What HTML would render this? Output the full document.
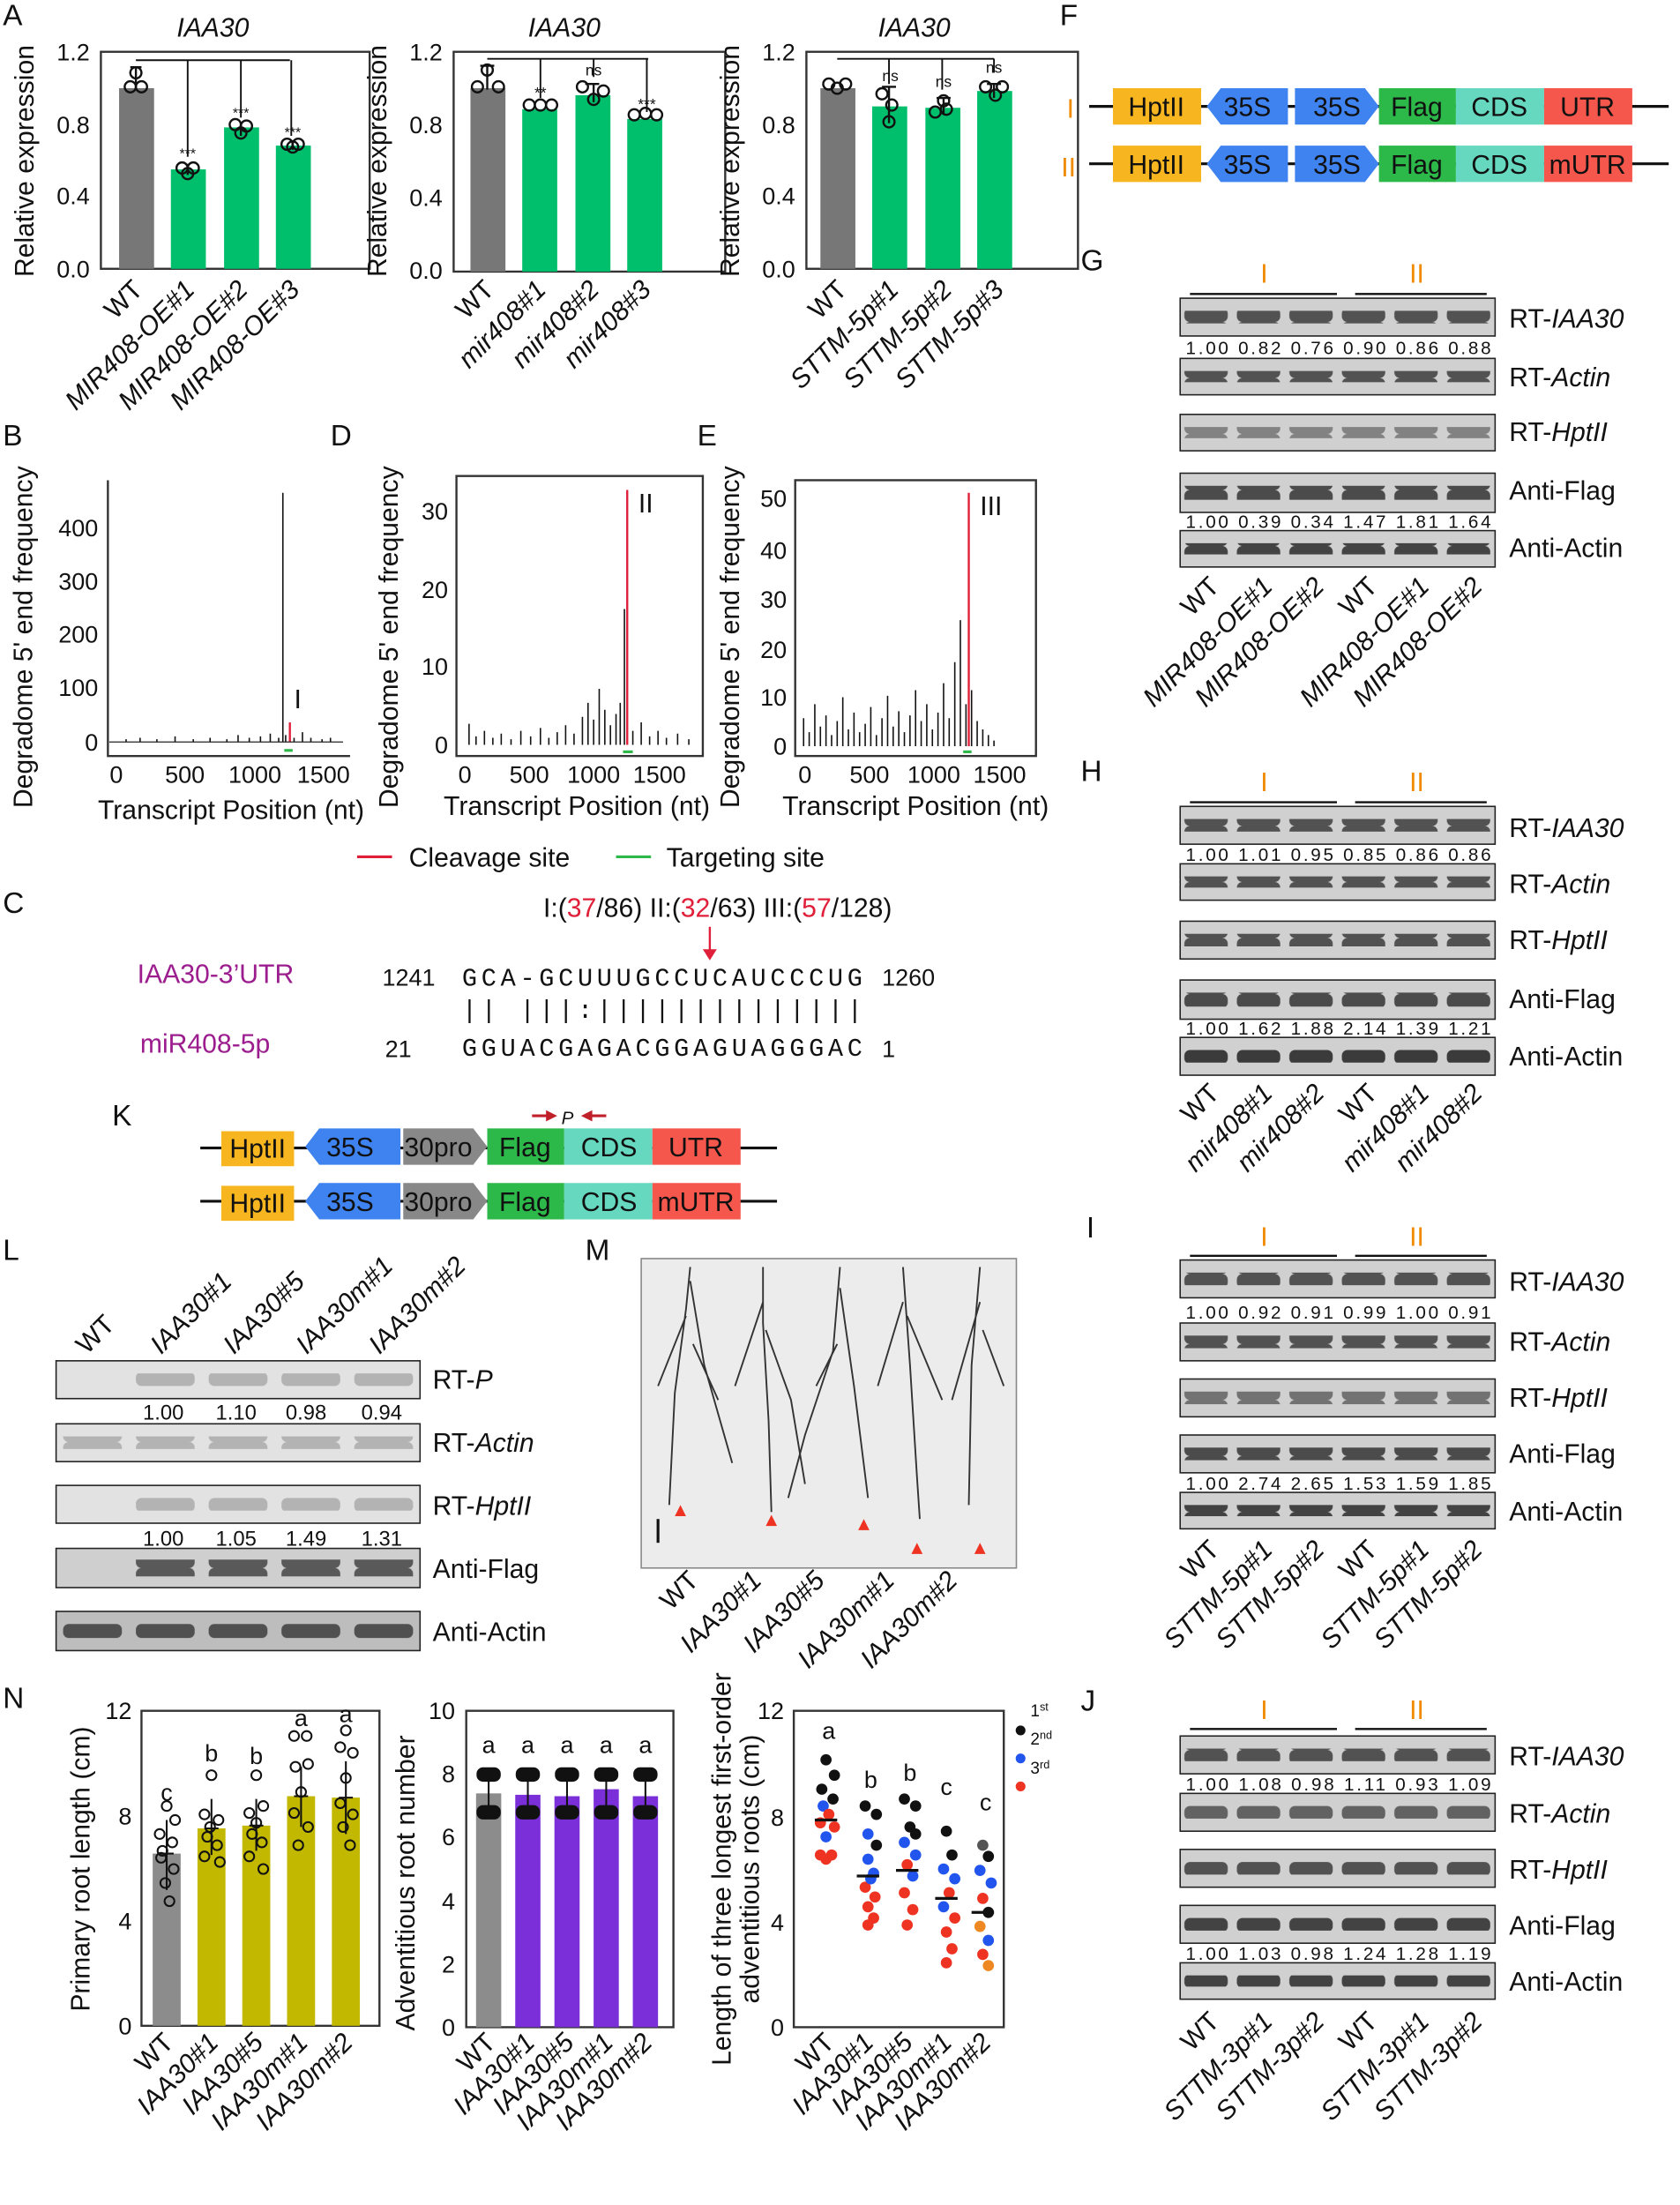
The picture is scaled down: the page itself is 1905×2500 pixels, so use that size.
<!DOCTYPE html>
<html><head><meta charset="utf-8"><style>
html,body{margin:0;padding:0;background:#fff;}
svg{display:block;}
text{font-family:"Liberation Sans",sans-serif;fill:#111;}
.t{font-size:17px;}
.lab{font-size:19px;}
.pl{font-size:21px;}
.i{font-style:italic;}
.ax{stroke:#333;stroke-width:1.5;fill:none;}
.gel{fill:#d0d0d0;stroke:#222;stroke-width:1;}
.num{font-size:13px;}
.gl{font-size:19px;}
.mono{font-family:"Liberation Mono",monospace;font-size:18px;}
</style></head><body>
<svg width="1905" height="2500" viewBox="0 0 1200 1575" xmlns="http://www.w3.org/2000/svg">
<defs>
<pattern id="b6" x="843" y="0" width="37.5" height="10" patternUnits="userSpaceOnUse"><rect x="3" y="0" width="31" height="10" fill="#333" rx="4"/></pattern>
<pattern id="b5" x="40" y="0" width="52" height="10" patternUnits="userSpaceOnUse"><rect x="5" y="0" width="42" height="10" fill="#444" rx="4"/></pattern>
</defs>

<text x="2" y="18" class="pl">A</text>
<text x="757" y="18" class="pl">F</text>
<text x="772" y="193" class="pl">G</text>
<text x="2" y="318" class="pl">B</text>
<text x="236" y="318" class="pl">D</text>
<text x="498" y="318" class="pl">E</text>
<text x="2" y="652" class="pl">C</text>
<text x="772" y="558" class="pl">H</text>
<text x="80" y="804" class="pl">K</text>
<text x="2" y="900" class="pl">L</text>
<text x="418" y="900" class="pl">M</text>
<text x="776" y="884" class="pl">I</text>
<text x="2" y="1220" class="pl">N</text>
<text x="772" y="1222" class="pl">J</text>

<!-- A chart 1 -->
<g>
<text x="152" y="26" class="lab i" text-anchor="middle">IAA30</text>
<rect x="72" y="37" width="192" height="155" class="ax"/>
<g class="t" text-anchor="end"><text x="64" y="43">1.2</text><text x="64" y="95">0.8</text><text x="64" y="146">0.4</text><text x="64" y="198">0.0</text></g>
<text transform="translate(24,115) rotate(-90)" class="lab" text-anchor="middle">Relative expression</text>
<rect x="85" y="63" width="25" height="129" fill="#777"/>
<rect x="122" y="121" width="25" height="71" fill="#00bf6c"/>
<rect x="160" y="91" width="25" height="101" fill="#00bf6c"/>
<rect x="197" y="104" width="25" height="88" fill="#00bf6c"/>
<g fill="none" stroke="#111" stroke-width="1.5">
<circle cx="93" cy="62" r="4"/><circle cx="101" cy="62" r="4"/><circle cx="97" cy="52" r="4"/>
<circle cx="130" cy="120" r="4"/><circle cx="138" cy="120" r="4"/><circle cx="134" cy="124" r="4"/>
<circle cx="168" cy="89" r="4"/><circle cx="176" cy="90" r="4"/><circle cx="172" cy="95" r="4"/>
<circle cx="205" cy="103" r="4"/><circle cx="213" cy="103" r="4"/><circle cx="209" cy="105" r="4"/>
<path d="M97 48V64M93 48h8M134 117V125M172 87V97M209 101V107"/>
<path d="M97 43H207M134 43V112M172 43V84M208 43V97" stroke-width="1.2"/>
</g>
<g font-size="10" text-anchor="middle"><text x="134" y="113">***</text><text x="172" y="84">***</text><text x="209" y="98">***</text></g>
<g class="lab" text-anchor="end">
<text transform="translate(103,208) rotate(-45)">WT</text>
<text transform="translate(140,208) rotate(-45)" class="i">MIR408-OE#1</text>
<text transform="translate(178,208) rotate(-45)" class="i">MIR408-OE#2</text>
<text transform="translate(215,208) rotate(-45)" class="i">MIR408-OE#3</text>
</g>
</g>

<!-- A chart 2 -->
<g>
<text x="403" y="26" class="lab i" text-anchor="middle">IAA30</text>
<rect x="324" y="37" width="194" height="157" class="ax"/>
<g class="t" text-anchor="end"><text x="316" y="43">1.2</text><text x="316" y="95">0.8</text><text x="316" y="147">0.4</text><text x="316" y="199">0.0</text></g>
<text transform="translate(276,115) rotate(-90)" class="lab" text-anchor="middle">Relative expression</text>
<rect x="336" y="63" width="25" height="131" fill="#777"/>
<rect x="373" y="78" width="25" height="116" fill="#00bf6c"/>
<rect x="411" y="68" width="25" height="126" fill="#00bf6c"/>
<rect x="448" y="85" width="25" height="109" fill="#00bf6c"/>
<g fill="none" stroke="#111" stroke-width="1.5">
<circle cx="341" cy="62" r="4"/><circle cx="356" cy="62" r="4"/><circle cx="348" cy="50" r="4"/>
<circle cx="378" cy="75" r="4"/><circle cx="386" cy="75" r="4"/><circle cx="394" cy="75" r="4"/>
<circle cx="416" cy="62" r="4"/><circle cx="424" cy="71" r="4"/><circle cx="431" cy="65" r="4"/>
<circle cx="453" cy="82" r="4"/><circle cx="461" cy="81" r="4"/><circle cx="469" cy="82" r="4"/>
<path d="M348 46V64M343 47h10M424 60V73M418 60h10"/>
<path d="M348 42H463M386 42V70M424 42V55M462 42V80" stroke-width="1.2"/>
</g>
<g font-size="11" text-anchor="middle"><text x="386" y="70">**</text><text x="424" y="54">ns</text><text x="462" y="78">***</text></g>
<g class="lab i" text-anchor="end">
<text transform="translate(354,208) rotate(-45)" font-style="normal">WT</text>
<text transform="translate(391,208) rotate(-45)">mir408#1</text>
<text transform="translate(429,208) rotate(-45)">mir408#2</text>
<text transform="translate(466,208) rotate(-45)">mir408#3</text>
</g>
</g>

<!-- A chart 3 -->
<g>
<text x="653" y="26" class="lab i" text-anchor="middle">IAA30</text>
<rect x="576" y="37" width="194" height="155" class="ax"/>
<g class="t" text-anchor="end"><text x="568" y="43">1.2</text><text x="568" y="95">0.8</text><text x="568" y="146">0.4</text><text x="568" y="198">0.0</text></g>
<text transform="translate(528,115) rotate(-90)" class="lab" text-anchor="middle">Relative expression</text>
<rect x="586" y="63" width="25" height="129" fill="#777"/>
<rect x="623" y="76" width="25" height="116" fill="#00bf6c"/>
<rect x="661" y="77" width="25" height="115" fill="#00bf6c"/>
<rect x="698" y="65" width="25" height="127" fill="#00bf6c"/>
<g fill="none" stroke="#111" stroke-width="1.5">
<circle cx="592" cy="60" r="4"/><circle cx="598" cy="63" r="4"/><circle cx="604" cy="60" r="4"/>
<circle cx="630" cy="67" r="4"/><circle cx="637" cy="75" r="4"/><circle cx="635" cy="87" r="4"/>
<circle cx="668" cy="80" r="4"/><circle cx="674" cy="72" r="4"/><circle cx="676" cy="78" r="4"/>
<circle cx="704" cy="62" r="4"/><circle cx="711" cy="68" r="4"/><circle cx="716" cy="62" r="4"/>
<path d="M635 62V88M630 62h10M674 70V82M669 70h10M710 60V70M705 60h10"/>
<path d="M598 42H710M635 42V60M673 42V64M710 42V52" stroke-width="1.2"/>
</g>
<g font-size="11" text-anchor="middle"><text x="636" y="58">ns</text><text x="674" y="62">ns</text><text x="710" y="52">ns</text></g>
<g class="lab i" text-anchor="end">
<text transform="translate(606,208) rotate(-45)" font-style="normal">WT</text>
<text transform="translate(643,208) rotate(-45)">STTM-5p#1</text>
<text transform="translate(681,208) rotate(-45)">STTM-5p#2</text>
<text transform="translate(718,208) rotate(-45)">STTM-5p#3</text>
</g>
</g>

<!-- F constructs -->
<g class="lab">
<text x="762" y="84" style="fill:#f08a00">I</text>
<text x="758" y="126" style="fill:#f08a00">II</text>
<line x1="778" y1="76" x2="1192" y2="76" stroke="#111" stroke-width="2"/>
<line x1="778" y1="117" x2="1192" y2="117" stroke="#111" stroke-width="2"/>
<g>
<rect x="795" y="63" width="63" height="26" fill="#f7b51f"/>
<polygon points="872,63 920,63 920,89 872,89 862,76" fill="#3f83f0"/>
<polygon points="925,63 975,63 985,76 975,89 925,89" fill="#3f83f0"/>
<rect x="985" y="63" width="55" height="26" fill="#2db84a"/>
<rect x="1040" y="63" width="63" height="26" fill="#66d8c0"/>
<rect x="1103" y="63" width="63" height="26" fill="#f5574c"/>
<text x="826" y="83" text-anchor="middle">HptII</text><text x="891" y="83" text-anchor="middle">35S</text><text x="955" y="83" text-anchor="middle">35S</text><text x="1012" y="83" text-anchor="middle">Flag</text><text x="1071" y="83" text-anchor="middle">CDS</text><text x="1134" y="83" text-anchor="middle">UTR</text>
</g>
<g transform="translate(0,41)">
<rect x="795" y="63" width="63" height="26" fill="#f7b51f"/>
<polygon points="872,63 920,63 920,89 872,89 862,76" fill="#3f83f0"/>
<polygon points="925,63 975,63 985,76 975,89 925,89" fill="#3f83f0"/>
<rect x="985" y="63" width="55" height="26" fill="#2db84a"/>
<rect x="1040" y="63" width="63" height="26" fill="#66d8c0"/>
<rect x="1103" y="63" width="63" height="26" fill="#f5574c"/>
<text x="826" y="83" text-anchor="middle">HptII</text><text x="891" y="83" text-anchor="middle">35S</text><text x="955" y="83" text-anchor="middle">35S</text><text x="1012" y="83" text-anchor="middle">Flag</text><text x="1071" y="83" text-anchor="middle">CDS</text><text x="1134" y="83" text-anchor="middle">mUTR</text>
</g>
</g>

<!-- G gels -->
<g>
<text x="903" y="202" class="lab" style="fill:#f08a00" text-anchor="middle">I</text>
<text x="1012" y="202" class="lab" style="fill:#f08a00" text-anchor="middle">II</text>
<path d="M850 210H955M968 210H1062" stroke="#111" stroke-width="1.5"/>
<rect x="843" y="213" width="225" height="27" class="gel"/><rect x="843" y="222" width="225" height="9" fill="url(#b6)" opacity="0.8"/>
<rect x="843" y="256" width="225" height="26" class="gel"/><rect x="843" y="265" width="225" height="8" fill="url(#b6)" opacity="0.8"/>
<rect x="843" y="296" width="225" height="26" class="gel"/><rect x="843" y="305" width="225" height="8" fill="url(#b6)" opacity="0.5"/>
<rect x="843" y="338" width="225" height="28" class="gel"/><rect x="843" y="347" width="225" height="10" fill="url(#b6)" opacity="0.85"/>
<rect x="843" y="379" width="225" height="26" class="gel"/><rect x="843" y="388" width="225" height="8" fill="url(#b6)" opacity="0.9"/>
<text x="847" y="253" class="num" textLength="218" lengthAdjust="spacing">1.00 0.82 0.76 0.90 0.86 0.88</text>
<text x="847" y="377" class="num" textLength="218" lengthAdjust="spacing">1.00 0.39 0.34 1.47 1.81 1.64</text>
<g class="gl"><text x="1078" y="234">RT-<tspan class="i">IAA30</tspan></text><text x="1078" y="276">RT-<tspan class="i">Actin</tspan></text><text x="1078" y="315">RT-<tspan class="i">HptII</tspan></text><text x="1078" y="357">Anti-Flag</text><text x="1078" y="398">Anti-Actin</text></g>
<g class="lab" text-anchor="end">
<text transform="translate(872,420) rotate(-45)">WT</text>
<text transform="translate(910,420) rotate(-45)" class="i">MIR408-OE#1</text>
<text transform="translate(947,420) rotate(-45)" class="i">MIR408-OE#2</text>
<text transform="translate(985,420) rotate(-45)">WT</text>
<text transform="translate(1022,420) rotate(-45)" class="i">MIR408-OE#1</text>
<text transform="translate(1060,420) rotate(-45)" class="i">MIR408-OE#2</text>
</g>
</g>

<!-- H gels -->
<g>
<text x="903" y="565" class="lab" style="fill:#f08a00" text-anchor="middle">I</text>
<text x="1012" y="565" class="lab" style="fill:#f08a00" text-anchor="middle">II</text>
<path d="M850 573H955M968 573H1062" stroke="#111" stroke-width="1.5"/>
<rect x="843" y="576" width="225" height="27" class="gel"/><rect x="843" y="585" width="225" height="9" fill="url(#b6)" opacity="0.8"/>
<rect x="843" y="617" width="225" height="26" class="gel"/><rect x="843" y="626" width="225" height="8" fill="url(#b6)" opacity="0.8"/>
<rect x="843" y="658" width="225" height="27" class="gel"/><rect x="843" y="667" width="225" height="9" fill="url(#b6)" opacity="0.8"/>
<rect x="843" y="700" width="225" height="28" class="gel"/><rect x="843" y="709" width="225" height="10" fill="url(#b6)" opacity="0.85"/>
<rect x="843" y="741" width="225" height="27" class="gel"/><rect x="843" y="750" width="225" height="9" fill="url(#b6)" opacity="0.95"/>
<text x="847" y="615" class="num" textLength="218" lengthAdjust="spacing">1.00 1.01 0.95 0.85 0.86 0.86</text>
<text x="847" y="739" class="num" textLength="218" lengthAdjust="spacing">1.00 1.62 1.88 2.14 1.39 1.21</text>
<g class="gl"><text x="1078" y="598">RT-<tspan class="i">IAA30</tspan></text><text x="1078" y="638">RT-<tspan class="i">Actin</tspan></text><text x="1078" y="678">RT-<tspan class="i">HptII</tspan></text><text x="1078" y="720">Anti-Flag</text><text x="1078" y="761">Anti-Actin</text></g>
<g class="lab" text-anchor="end">
<text transform="translate(872,782) rotate(-45)">WT</text>
<text transform="translate(910,782) rotate(-45)" class="i">mir408#1</text>
<text transform="translate(947,782) rotate(-45)" class="i">mir408#2</text>
<text transform="translate(985,782) rotate(-45)">WT</text>
<text transform="translate(1022,782) rotate(-45)" class="i">mir408#1</text>
<text transform="translate(1060,782) rotate(-45)" class="i">mir408#2</text>
</g>
</g>

<!-- I gels -->
<g>
<text x="903" y="890" class="lab" style="fill:#f08a00" text-anchor="middle">I</text>
<text x="1012" y="890" class="lab" style="fill:#f08a00" text-anchor="middle">II</text>
<path d="M850 897H955M968 897H1062" stroke="#111" stroke-width="1.5"/>
<rect x="843" y="900" width="225" height="27" class="gel"/><rect x="843" y="909" width="225" height="9" fill="url(#b6)" opacity="0.8"/>
<rect x="843" y="945" width="225" height="27" class="gel"/><rect x="843" y="954" width="225" height="9" fill="url(#b6)" opacity="0.8"/>
<rect x="843" y="985" width="225" height="27" class="gel"/><rect x="843" y="994" width="225" height="9" fill="url(#b6)" opacity="0.6"/>
<rect x="843" y="1025" width="225" height="27" class="gel"/><rect x="843" y="1034" width="225" height="9" fill="url(#b6)" opacity="0.85"/>
<rect x="843" y="1066" width="225" height="26" class="gel"/><rect x="843" y="1075" width="225" height="8" fill="url(#b6)" opacity="0.9"/>
<text x="847" y="942" class="num" textLength="218" lengthAdjust="spacing">1.00 0.92 0.91 0.99 1.00 0.91</text>
<text x="847" y="1064" class="num" textLength="218" lengthAdjust="spacing">1.00 2.74 2.65 1.53 1.59 1.85</text>
<g class="gl"><text x="1078" y="922">RT-<tspan class="i">IAA30</tspan></text><text x="1078" y="965">RT-<tspan class="i">Actin</tspan></text><text x="1078" y="1005">RT-<tspan class="i">HptII</tspan></text><text x="1078" y="1045">Anti-Flag</text><text x="1078" y="1086">Anti-Actin</text></g>
<g class="lab" text-anchor="end">
<text transform="translate(872,1108) rotate(-45)">WT</text>
<text transform="translate(910,1108) rotate(-45)" class="i">STTM-5p#1</text>
<text transform="translate(947,1108) rotate(-45)" class="i">STTM-5p#2</text>
<text transform="translate(985,1108) rotate(-45)">WT</text>
<text transform="translate(1022,1108) rotate(-45)" class="i">STTM-5p#1</text>
<text transform="translate(1060,1108) rotate(-45)" class="i">STTM-5p#2</text>
</g>
</g>

<!-- J gels -->
<g>
<text x="903" y="1228" class="lab" style="fill:#f08a00" text-anchor="middle">I</text>
<text x="1012" y="1228" class="lab" style="fill:#f08a00" text-anchor="middle">II</text>
<path d="M850 1235H955M968 1235H1062" stroke="#111" stroke-width="1.5"/>
<rect x="843" y="1240" width="225" height="27" class="gel"/><rect x="843" y="1249" width="225" height="9" fill="url(#b6)" opacity="0.8"/>
<rect x="843" y="1281" width="225" height="27" class="gel"/><rect x="843" y="1290" width="225" height="9" fill="url(#b6)" opacity="0.7"/>
<rect x="843" y="1321" width="225" height="27" class="gel"/><rect x="843" y="1330" width="225" height="9" fill="url(#b6)" opacity="0.8"/>
<rect x="843" y="1361" width="225" height="27" class="gel"/><rect x="843" y="1370" width="225" height="9" fill="url(#b6)" opacity="0.9"/>
<rect x="843" y="1402" width="225" height="26" class="gel"/><rect x="843" y="1411" width="225" height="8" fill="url(#b6)" opacity="0.9"/>
<text x="847" y="1279" class="num" textLength="218" lengthAdjust="spacing">1.00 1.08 0.98 1.11 0.93 1.09</text>
<text x="847" y="1400" class="num" textLength="218" lengthAdjust="spacing">1.00 1.03 0.98 1.24 1.28 1.19</text>
<g class="gl"><text x="1078" y="1261">RT-<tspan class="i">IAA30</tspan></text><text x="1078" y="1302">RT-<tspan class="i">Actin</tspan></text><text x="1078" y="1342">RT-<tspan class="i">HptII</tspan></text><text x="1078" y="1382">Anti-Flag</text><text x="1078" y="1422">Anti-Actin</text></g>
<g class="lab" text-anchor="end">
<text transform="translate(872,1445) rotate(-45)">WT</text>
<text transform="translate(910,1445) rotate(-45)" class="i">STTM-3p#1</text>
<text transform="translate(947,1445) rotate(-45)" class="i">STTM-3p#2</text>
<text transform="translate(985,1445) rotate(-45)">WT</text>
<text transform="translate(1022,1445) rotate(-45)" class="i">STTM-3p#1</text>
<text transform="translate(1060,1445) rotate(-45)" class="i">STTM-3p#2</text>
</g>
</g>

<!-- B degradome -->
<g>
<path d="M77 343V540H250" class="ax"/>
<g class="t" text-anchor="end"><text x="70" y="383">400</text><text x="70" y="421">300</text><text x="70" y="459">200</text><text x="70" y="497">100</text><text x="70" y="536">0</text></g>
<g class="t" text-anchor="middle"><text x="83" y="559">0</text><text x="132" y="559">500</text><text x="182" y="559">1000</text><text x="231" y="559">1500</text></g>
<text x="165" y="585" class="lab" text-anchor="middle">Transcript Position (nt)</text>
<text transform="translate(23,455) rotate(-90)" class="lab" text-anchor="middle">Degradome 5' end frequency</text>
<path d="M90 530v-2M100 530v-3M112 530v-2M125 530v-4M138 530v-2M150 530v-3M162 530v-2M170 530v-5M178 530v-3M186 530v-4M193 530v-6M199 530v-3M204 530v-5M210 530v-3M216 530v-7M222 530v-3M230 530v-2M236 530v-3M202 530V352" stroke="#111" stroke-width="1"/>
<line x1="207" y1="530" x2="207" y2="516" stroke="#e0203a" stroke-width="1.5"/>
<line x1="203" y1="536" x2="209" y2="536" stroke="#2fb84a" stroke-width="2"/>
<line x1="78" y1="530" x2="245" y2="530" stroke="#222" stroke-width="0.8"/>
<text x="210" y="506" class="lab">I</text>
</g>

<!-- D degradome -->
<g>
<rect x="326" y="340" width="176" height="200" class="ax"/>
<g class="t" text-anchor="end"><text x="320" y="371">30</text><text x="320" y="427">20</text><text x="320" y="482">10</text><text x="320" y="538">0</text></g>
<g class="t" text-anchor="middle"><text x="332" y="559">0</text><text x="378" y="559">500</text><text x="424" y="559">1000</text><text x="471" y="559">1500</text></g>
<text x="412" y="582" class="lab" text-anchor="middle">Transcript Position (nt)</text>
<text transform="translate(284,455) rotate(-90)" class="lab" text-anchor="middle">Degradome 5' end frequency</text>
<path d="M335 532v-15M340 532v-6M346 532v-10M352 532v-5M358 532v-8M365 532v-4M372 532v-10M379 532v-6M386 532v-12M392 532v-5M398 532v-9M404 532v-14M410 532v-8M416 532v-20M420 532v-30M424 532v-18M428 532v-40M432 532v-25M436 532v-14M440 532v-22M443 532v-30M446 532V435M452 532v-10M458 532v-16M464 532v-6M470 532v-10M476 532v-5M484 532v-8M492 532v-4" stroke="#111" stroke-width="1"/>
<line x1="448" y1="532" x2="448" y2="350" stroke="#e0203a" stroke-width="1.5"/>
<line x1="445" y1="537" x2="452" y2="537" stroke="#2fb84a" stroke-width="2"/>
<text x="456" y="366" class="lab">II</text>
</g>

<!-- E degradome -->
<g>
<rect x="568" y="343" width="172" height="197" class="ax"/>
<g class="t" text-anchor="end"><text x="562" y="362">50</text><text x="562" y="399">40</text><text x="562" y="434">30</text><text x="562" y="470">20</text><text x="562" y="504">10</text><text x="562" y="539">0</text></g>
<g class="t" text-anchor="middle"><text x="575" y="559">0</text><text x="621" y="559">500</text><text x="667" y="559">1000</text><text x="714" y="559">1500</text></g>
<text x="654" y="582" class="lab" text-anchor="middle">Transcript Position (nt)</text>
<text transform="translate(528,455) rotate(-90)" class="lab" text-anchor="middle">Degradome 5' end frequency</text>
<path d="M574 533v-20M578 533v-10M582 533v-30M586 533v-14M590 533v-22M594 533v-8M598 533v-18M602 533v-35M606 533v-12M610 533v-24M614 533v-10M618 533v-16M622 533v-28M626 533v-8M630 533v-20M634 533v-36M638 533v-14M642 533v-25M646 533v-10M650 533v-22M654 533v-40M658 533v-18M662 533v-30M666 533v-12M670 533v-24M674 533v-45M678 533v-20M682 533v-60M686 533v-90M690 533v-30M694 533v-40M698 533v-18M702 533v-12M706 533v-8M710 533v-4" stroke="#111" stroke-width="1"/>
<line x1="692" y1="533" x2="692" y2="352" stroke="#e0203a" stroke-width="1.5"/>
<line x1="688" y1="537" x2="694" y2="537" stroke="#2fb84a" stroke-width="2"/>
<text x="700" y="368" class="lab">III</text>
</g>

<line x1="255" y1="612" x2="280" y2="612" stroke="#e0203a" stroke-width="2"/>
<text x="292" y="619" class="lab">Cleavage site</text>
<line x1="440" y1="612" x2="465" y2="612" stroke="#2fb84a" stroke-width="2"/>
<text x="476" y="619" class="lab">Targeting site</text>

<!-- C -->
<g>
<text x="388" y="655" class="lab">I:(<tspan style="fill:#e0203a">37</tspan>/86)  II:(<tspan style="fill:#e0203a">32</tspan>/63)  III:(<tspan style="fill:#e0203a">57</tspan>/128)</text>
<path d="M507 662V680" stroke="#e0203a" stroke-width="1.5"/><polygon points="502,678 512,678 507,686" fill="#e0203a"/>
<text x="98" y="702" class="lab" style="fill:#9b1d8e">IAA30-3’UTR</text>
<text x="100" y="752" class="lab" style="fill:#9b1d8e">miR408-5p</text>
<text x="273" y="704" class="t">1241</text>
<text x="330" y="704" class="mono" textLength="286" lengthAdjust="spacing">GCA-GCUUUGCCUCAUCCCUG</text>
<text x="330" y="727" class="mono" textLength="286" lengthAdjust="spacing">|| |||:||||||||||||||</text>
<text x="330" y="754" class="mono" textLength="286" lengthAdjust="spacing">GGUACGAGACGGAGUAGGGAC</text>
<text x="630" y="704" class="t">1260</text>
<text x="275" y="755" class="t">21</text>
<text x="630" y="755" class="t">1</text>
</g>

<!-- K -->
<g class="lab">
<line x1="143" y1="820" x2="555" y2="820" stroke="#111" stroke-width="2"/>
<line x1="143" y1="858" x2="555" y2="858" stroke="#111" stroke-width="2"/>
<g>
<rect x="158" y="808" width="52" height="25" fill="#f7b51f"/>
<polygon points="228,806 286,806 286,832 228,832 218,819" fill="#3f83f0"/>
<polygon points="288,806 338,806 348,819 338,832 288,832" fill="#888"/>
<rect x="348" y="806" width="55" height="26" fill="#2db84a"/>
<rect x="403" y="806" width="63" height="26" fill="#66d8c0"/>
<rect x="466" y="806" width="63" height="26" fill="#f5574c"/>
<text x="184" y="827" text-anchor="middle">HptII</text><text x="250" y="826" text-anchor="middle">35S</text><text x="313" y="826" text-anchor="middle">30pro</text><text x="375" y="826" text-anchor="middle">Flag</text><text x="435" y="826" text-anchor="middle">CDS</text><text x="497" y="826" text-anchor="middle">UTR</text>
</g>
<g transform="translate(0,39)">
<rect x="158" y="808" width="52" height="25" fill="#f7b51f"/>
<polygon points="228,806 286,806 286,832 228,832 218,819" fill="#3f83f0"/>
<polygon points="288,806 338,806 348,819 338,832 288,832" fill="#888"/>
<rect x="348" y="806" width="55" height="26" fill="#2db84a"/>
<rect x="403" y="806" width="63" height="26" fill="#66d8c0"/>
<rect x="466" y="806" width="63" height="26" fill="#f5574c"/>
<text x="184" y="827" text-anchor="middle">HptII</text><text x="250" y="826" text-anchor="middle">35S</text><text x="313" y="826" text-anchor="middle">30pro</text><text x="375" y="826" text-anchor="middle">Flag</text><text x="435" y="826" text-anchor="middle">CDS</text><text x="497" y="826" text-anchor="middle">mUTR</text>
</g>
<path d="M380 797H395M418 797H433" stroke="#c0202a" stroke-width="2"/>
<polygon points="398,797 390,793 390,801" fill="#c0202a"/><polygon points="415,797 423,793 423,801" fill="#c0202a"/>
<text x="401" y="803" font-size="13" class="i">P</text>
</g>

<!-- L -->
<g>
<g class="lab" text-anchor="start">
<text transform="translate(62,968) rotate(-45)">WT</text>
<text transform="translate(115,968) rotate(-45)" class="i">IAA30#1</text>
<text transform="translate(167,968) rotate(-45)" class="i">IAA30#5</text>
<text transform="translate(219,968) rotate(-45)" class="i">IAA30m#1</text>
<text transform="translate(271,968) rotate(-45)" class="i">IAA30m#2</text>
</g>
<rect x="40" y="972" width="260" height="27" class="gel" style="fill:#e2e2e2"/><rect x="92" y="981" width="208" height="9" fill="url(#b5)" opacity="0.3"/>
<rect x="40" y="1017" width="260" height="27" class="gel" style="fill:#e2e2e2"/><rect x="40" y="1026" width="260" height="9" fill="url(#b5)" opacity="0.3"/>
<rect x="40" y="1061" width="260" height="27" class="gel" style="fill:#e2e2e2"/><rect x="92" y="1070" width="208" height="9" fill="url(#b5)" opacity="0.3"/>
<rect x="40" y="1106" width="260" height="28" class="gel" style="fill:#cfcfcf"/><rect x="92" y="1114" width="208" height="12" fill="url(#b5)" opacity="0.85"/>
<rect x="40" y="1151" width="260" height="28" class="gel" style="fill:#bdbdbd"/><rect x="40" y="1160" width="260" height="10" fill="url(#b5)" opacity="0.9"/>
<g font-size="15"><text x="102" y="1014">1.00</text><text x="154" y="1014">1.10</text><text x="204" y="1014">0.98</text><text x="258" y="1014">0.94</text>
<text x="102" y="1104">1.00</text><text x="154" y="1104">1.05</text><text x="204" y="1104">1.49</text><text x="258" y="1104">1.31</text></g>
<g class="gl"><text x="309" y="992">RT-<tspan class="i">P</tspan></text><text x="309" y="1037">RT-<tspan class="i">Actin</tspan></text><text x="309" y="1082">RT-<tspan class="i">HptII</tspan></text><text x="309" y="1127">Anti-Flag</text><text x="309" y="1172">Anti-Actin</text></g>
</g>

<!-- M -->
<g>
<rect x="458" y="899" width="268" height="221" fill="#ececec" stroke="#888"/>
<g stroke="#333" fill="none" stroke-width="1.2">
<path d="M493 905l-3 30l-8 60l-4 80M493 915l10 60l20 70M490 940l-20 50M495 960l18 40"/>
<path d="M545 905l0 40l4 70l2 65M545 930l-20 60M547 950l18 50l10 60"/>
<path d="M600 905l-5 60l-20 60l-12 45M600 920l10 70l10 80M598 960l-15 30"/>
<path d="M645 905l5 70l5 80l2 30M645 930l-18 60M648 940l25 60"/>
<path d="M700 905l-6 70l-2 100M700 930l-20 70M702 950l15 40"/>
</g>
<g fill="#ee3322"><polygon points="486,1075 482,1083 490,1083"/><polygon points="551,1082 547,1090 555,1090"/><polygon points="617,1085 613,1093 621,1093"/><polygon points="655,1102 651,1110 659,1110"/><polygon points="700,1102 696,1110 704,1110"/></g>
<line x1="470" y1="1085" x2="470" y2="1102" stroke="#111" stroke-width="2"/>
<g class="lab" text-anchor="end">
<text transform="translate(500,1130) rotate(-45)">WT</text>
<text transform="translate(545,1130) rotate(-45)" class="i">IAA30#1</text>
<text transform="translate(590,1130) rotate(-45)" class="i">IAA30#5</text>
<text transform="translate(640,1130) rotate(-45)" class="i">IAA30m#1</text>
<text transform="translate(685,1130) rotate(-45)" class="i">IAA30m#2</text>
</g>
</g>

<!-- N chart 1 -->
<g>
<rect x="101" y="1222" width="170" height="225" class="ax"/>
<g class="t" text-anchor="end"><text x="94" y="1228">12</text><text x="94" y="1303">8</text><text x="94" y="1378">4</text><text x="94" y="1453">0</text></g>
<text transform="translate(64,1335) rotate(-90)" class="lab" text-anchor="middle">Primary root length (cm)</text>
<rect x="109" y="1324" width="20" height="123" fill="#8c8c8c"/>
<rect x="141" y="1306" width="20" height="141" fill="#c2b800"/>
<rect x="173" y="1304" width="20" height="143" fill="#c2b800"/>
<rect x="205" y="1283" width="20" height="164" fill="#c2b800"/>
<rect x="237" y="1284" width="20" height="163" fill="#c2b800"/>
<g fill="none" stroke="#111" stroke-width="1.3">
<path d="M119 1300V1350M151 1285V1325M183 1285V1322M215 1262V1305M247 1258V1310M114 1324h10M146 1306h10M178 1304h10M210 1283h10M242 1284h10"/>
<circle cx="114" cy="1310" r="3.5"/><circle cx="123" cy="1316" r="3.5"/><circle cx="115" cy="1327" r="3.5"/><circle cx="124" cy="1335" r="3.5"/><circle cx="118" cy="1345" r="3.5"/><circle cx="121" cy="1358" r="3.5"/><circle cx="119" cy="1290" r="3.5"/><circle cx="116" cy="1322" r="3.5"/><circle cx="125" cy="1300" r="3.5"/>
<circle cx="146" cy="1296" r="3.5"/><circle cx="156" cy="1300" r="3.5"/><circle cx="148" cy="1312" r="3.5"/><circle cx="155" cy="1318" r="3.5"/><circle cx="146" cy="1326" r="3.5"/><circle cx="157" cy="1330" r="3.5"/><circle cx="151" cy="1268" r="3.5"/><circle cx="150" cy="1305" r="3.5"/>
<circle cx="178" cy="1295" r="3.5"/><circle cx="188" cy="1290" r="3.5"/><circle cx="180" cy="1310" r="3.5"/><circle cx="187" cy="1316" r="3.5"/><circle cx="178" cy="1326" r="3.5"/><circle cx="188" cy="1335" r="3.5"/><circle cx="183" cy="1268" r="3.5"/><circle cx="183" cy="1302" r="3.5"/>
<circle cx="210" cy="1240" r="3.5"/><circle cx="219" cy="1240" r="3.5"/><circle cx="211" cy="1262" r="3.5"/><circle cx="220" cy="1260" r="3.5"/><circle cx="215" cy="1280" r="3.5"/><circle cx="210" cy="1295" r="3.5"/><circle cx="220" cy="1305" r="3.5"/><circle cx="213" cy="1318" r="3.5"/>
<circle cx="247" cy="1236" r="3.5"/><circle cx="243" cy="1248" r="3.5"/><circle cx="252" cy="1252" r="3.5"/><circle cx="247" cy="1270" r="3.5"/><circle cx="243" cy="1288" r="3.5"/><circle cx="252" cy="1296" r="3.5"/><circle cx="245" cy="1305" r="3.5"/><circle cx="250" cy="1318" r="3.5"/>
</g>
<g class="t" text-anchor="middle"><text x="119" y="1286">c</text><text x="151" y="1258">b</text><text x="183" y="1260">b</text><text x="215" y="1233">a</text><text x="247" y="1230">a</text></g>
<g class="lab i" text-anchor="end">
<text transform="translate(125,1460) rotate(-45)" font-style="normal">WT</text>
<text transform="translate(157,1460) rotate(-45)">IAA30#1</text>
<text transform="translate(189,1460) rotate(-45)">IAA30#5</text>
<text transform="translate(221,1460) rotate(-45)">IAA30m#1</text>
<text transform="translate(253,1460) rotate(-45)">IAA30m#2</text>
</g>
</g>

<!-- N chart 2 -->
<g>
<rect x="333" y="1222" width="148" height="226" class="ax"/>
<g class="t" text-anchor="end"><text x="325" y="1228">10</text><text x="325" y="1273">8</text><text x="325" y="1318">6</text><text x="325" y="1364">4</text><text x="325" y="1409">2</text><text x="325" y="1454">0</text></g>
<text transform="translate(296,1345) rotate(-90)" class="lab" text-anchor="middle">Adventitious root number</text>
<rect x="340" y="1281" width="18" height="167" fill="#8c8c8c"/>
<rect x="368" y="1282" width="18" height="166" fill="#7b2fd9"/>
<rect x="396" y="1283" width="18" height="165" fill="#7b2fd9"/>
<rect x="424" y="1278" width="18" height="170" fill="#7b2fd9"/>
<rect x="452" y="1283" width="18" height="165" fill="#7b2fd9"/>
<g fill="#111" stroke="#111" stroke-width="1.3">
<path d="M349 1268V1295M377 1268V1295M405 1270V1295M433 1268V1295M461 1270V1295"/>
<rect x="341" y="1263" width="16" height="9" rx="4"/><rect x="341" y="1290" width="16" height="9" rx="4"/>
<rect x="369" y="1263" width="16" height="9" rx="4"/><rect x="369" y="1290" width="16" height="9" rx="4"/>
<rect x="397" y="1263" width="16" height="9" rx="4"/><rect x="397" y="1290" width="16" height="9" rx="4"/>
<rect x="425" y="1263" width="16" height="9" rx="4"/><rect x="425" y="1290" width="16" height="9" rx="4"/>
<rect x="453" y="1263" width="16" height="9" rx="4"/><rect x="453" y="1290" width="16" height="9" rx="4"/>
</g>
<g class="t" text-anchor="middle"><text x="349" y="1252">a</text><text x="377" y="1252">a</text><text x="405" y="1252">a</text><text x="433" y="1252">a</text><text x="461" y="1252">a</text></g>
<g class="lab i" text-anchor="end">
<text transform="translate(355,1460) rotate(-45)" font-style="normal">WT</text>
<text transform="translate(383,1460) rotate(-45)">IAA30#1</text>
<text transform="translate(411,1460) rotate(-45)">IAA30#5</text>
<text transform="translate(439,1460) rotate(-45)">IAA30m#1</text>
<text transform="translate(467,1460) rotate(-45)">IAA30m#2</text>
</g>
</g>

<!-- N chart 3 -->
<g>
<rect x="567" y="1222" width="150" height="226" class="ax"/>
<g class="t" text-anchor="end"><text x="560" y="1228">12</text><text x="560" y="1304">8</text><text x="560" y="1379">4</text><text x="560" y="1454">0</text></g>
<text transform="translate(522,1335) rotate(-90)" class="lab" text-anchor="middle">Length of three longest first-order</text>
<text transform="translate(542,1335) rotate(-90)" class="lab" text-anchor="middle">adventitious roots (cm)</text>
<g>
<circle cx="590" cy="1257" r="4" fill="#111"/><circle cx="596" cy="1268" r="4" fill="#111"/><circle cx="587" cy="1278" r="4" fill="#111"/><circle cx="595" cy="1285" r="4" fill="#111"/><circle cx="588" cy="1290" r="4" fill="#2255ee"/><circle cx="592" cy="1296" r="4" fill="#ee3322"/><circle cx="586" cy="1302" r="4" fill="#ee3322"/><circle cx="596" cy="1305" r="4" fill="#ee3322"/><circle cx="590" cy="1312" r="4" fill="#2255ee"/><circle cx="586" cy="1325" r="4" fill="#ee3322"/><circle cx="594" cy="1325" r="4" fill="#ee3322"/><circle cx="590" cy="1328" r="4" fill="#ee3322"/>
<circle cx="618" cy="1290" r="4" fill="#111"/><circle cx="626" cy="1296" r="4" fill="#111"/><circle cx="620" cy="1310" r="4" fill="#2255ee"/><circle cx="626" cy="1318" r="4" fill="#111"/><circle cx="620" cy="1328" r="4" fill="#2255ee"/><circle cx="624" cy="1338" r="4" fill="#2255ee"/><circle cx="618" cy="1348" r="4" fill="#ee3322"/><circle cx="625" cy="1355" r="4" fill="#ee3322"/><circle cx="620" cy="1362" r="4" fill="#ee3322"/><circle cx="624" cy="1370" r="4" fill="#ee3322"/><circle cx="620" cy="1375" r="4" fill="#ee3322"/><circle cx="622" cy="1342" r="4" fill="#2255ee"/>
<circle cx="646" cy="1285" r="4" fill="#111"/><circle cx="654" cy="1290" r="4" fill="#111"/><circle cx="650" cy="1305" r="4" fill="#111"/><circle cx="646" cy="1316" r="4" fill="#2255ee"/><circle cx="654" cy="1325" r="4" fill="#2255ee"/><circle cx="648" cy="1332" r="4" fill="#ee3322"/><circle cx="652" cy="1340" r="4" fill="#2255ee"/><circle cx="646" cy="1352" r="4" fill="#ee3322"/><circle cx="652" cy="1364" r="4" fill="#ee3322"/><circle cx="648" cy="1375" r="4" fill="#ee3322"/><circle cx="654" cy="1310" r="4" fill="#111"/>
<circle cx="676" cy="1308" r="4" fill="#111"/><circle cx="680" cy="1325" r="4" fill="#111"/><circle cx="674" cy="1335" r="4" fill="#2255ee"/><circle cx="682" cy="1342" r="4" fill="#2255ee"/><circle cx="678" cy="1352" r="4" fill="#ee3322"/><circle cx="674" cy="1362" r="4" fill="#2255ee"/><circle cx="682" cy="1370" r="4" fill="#ee3322"/><circle cx="676" cy="1380" r="4" fill="#ee3322"/><circle cx="680" cy="1392" r="4" fill="#ee3322"/><circle cx="676" cy="1402" r="4" fill="#ee3322"/>
<circle cx="702" cy="1318" r="4" fill="#555"/><circle cx="706" cy="1326" r="4" fill="#111"/><circle cx="700" cy="1336" r="4" fill="#2255ee"/><circle cx="708" cy="1345" r="4" fill="#2255ee"/><circle cx="702" cy="1356" r="4" fill="#ee3322"/><circle cx="706" cy="1366" r="4" fill="#111"/><circle cx="700" cy="1376" r="4" fill="#ee8822"/><circle cx="706" cy="1386" r="4" fill="#2255ee"/><circle cx="702" cy="1396" r="4" fill="#ee3322"/><circle cx="706" cy="1404" r="4" fill="#ee8822"/>
</g>
<path d="M582 1300h16M612 1340h16M640 1336h16M668 1356h16M694 1366h16" stroke="#111" stroke-width="2"/>
<g class="t" text-anchor="middle"><text x="592" y="1242">a</text><text x="622" y="1277">b</text><text x="650" y="1272">b</text><text x="676" y="1282">c</text><text x="704" y="1293">c</text></g>
<g font-size="12"><text x="736" y="1226">1<tspan font-size="8" dy="-4">st</tspan></text><text x="736" y="1246">2<tspan font-size="8" dy="-4">nd</tspan></text><text x="736" y="1267">3<tspan font-size="8" dy="-4">rd</tspan></text></g>
<circle cx="729" cy="1236" r="3.5" fill="#111"/><circle cx="729" cy="1256" r="3.5" fill="#2255ee"/><circle cx="729" cy="1276" r="3.5" fill="#ee3322"/>
<g class="lab i" text-anchor="end">
<text transform="translate(597,1460) rotate(-45)" font-style="normal">WT</text>
<text transform="translate(625,1460) rotate(-45)">IAA30#1</text>
<text transform="translate(653,1460) rotate(-45)">IAA30#5</text>
<text transform="translate(681,1460) rotate(-45)">IAA30m#1</text>
<text transform="translate(709,1460) rotate(-45)">IAA30m#2</text>
</g>
</g>
</svg>
</body></html>
